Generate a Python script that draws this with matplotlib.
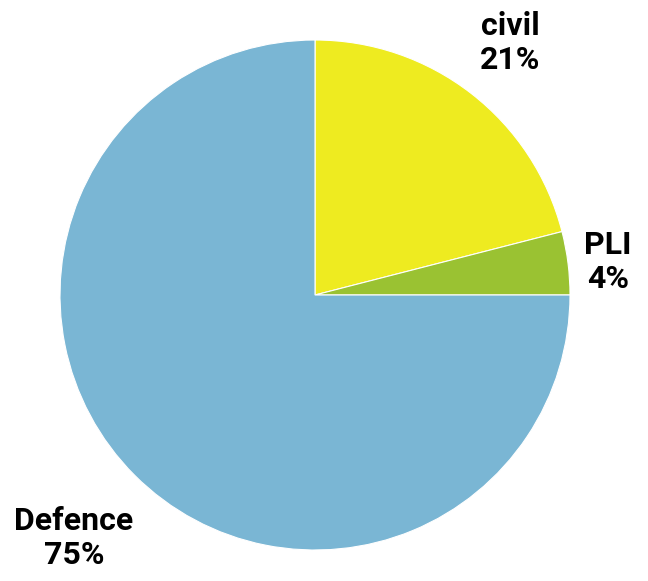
import matplotlib.pyplot as plt

labels = ['civil', 'PLI', 'Defence']
shares = [21, 4, 75]
colors = ['#EEEB20', '#9AC232', '#7AB6D4']

plt.rcParams['font.family'] = ['Roboto', 'DejaVu Sans']

fig = plt.figure(figsize=(6.48, 5.81), dpi=100)
ax = fig.add_axes([60 / 648, 31 / 581, 510 / 648, 510 / 581])
ax.pie(shares, colors=colors, startangle=90, counterclock=False,
       wedgeprops={'linewidth': 0.8, 'edgecolor': 'white'})
ax.set_xlim(-1, 1)
ax.set_ylim(-1, 1)
ax.set_aspect('equal')

# label positions in pixels (x, y from top)
label_pos = [(510, 43), (608, 262), (74, 538)]
for lab, val, (px, py) in zip(labels, shares, label_pos):
    fig.text(px / 648, 1 - py / 581, f'{lab}\n{val}%', ha='center', va='center',
             fontsize=23, fontweight='bold', linespacing=1.15)

fig.savefig('out.png', dpi=100)
